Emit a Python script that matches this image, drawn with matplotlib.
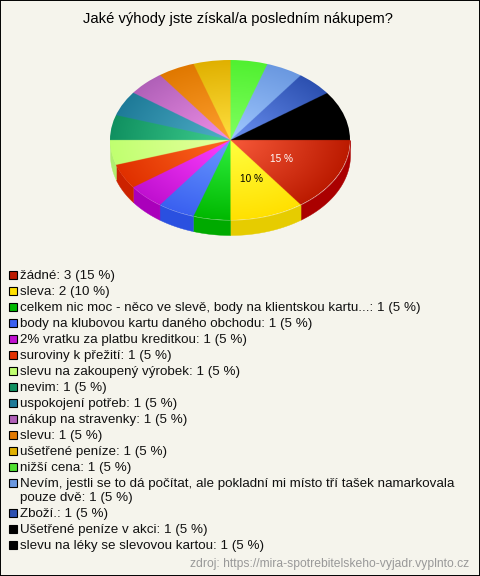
import numpy as np
import matplotlib
matplotlib.use('Agg')
import matplotlib.pyplot as plt
from matplotlib.colors import to_rgb
from matplotlib.patches import Circle, Rectangle

plt.rcParams['font.family'] = ['Liberation Sans', 'DejaVu Sans']

title = 'Jaké výhody jste získal/a posledním nákupem?'
source = 'zdroj: https://mira-spotrebitelskeho-vyjadr.vyplnto.cz'
labels = ['žádné', 'sleva',
          'celkem nic moc - něco ve slevě, body na klientskou kartu...',
          'body na klubovou kartu daného obchodu', '2% vratku za platbu kreditkou',
          'suroviny k přežití', 'slevu na zakoupený výrobek', 'nevim',
          'uspokojení potřeb', 'nákup na stravenky', 'slevu', 'ušetřené peníze',
          'nižší cena',
          'Nevím, jestli se to dá počítat, ale pokladní mi místo tří tašek namarkovala\npouze dvě',
          'Zboží.', 'Ušetřené peníze v akci', 'slevu na léky se slevovou kartou']
counts = [3, 2, 1, 1, 1, 1, 1, 1, 1, 1, 1, 1, 1, 1, 1, 1, 1]

# legend swatch / rim of the top face
rim_colors = ['#bb1a00', '#ffe000', '#00b800', '#3a60f0', '#c010d0', '#e03000',
              '#c0ff70', '#109060', '#1e7a98', '#b060b8', '#e07800', '#e0b000',
              '#50f030', '#6a98e0', '#2c50b0', '#000000', '#000000']
center_colors = ['#f85a3a', '#ffff40', '#30f040', '#6a9aff', '#ff40ff', '#ff6a20',
                 '#e8ffa0', '#40d090', '#50b0c8', '#f090e8', '#ffa030', '#ffe040',
                 '#80ff60', '#a0c8ff', '#6a90f0', '#000000', '#000000']
side_colors = ['#aa0000', '#e6cc00', '#00aa00', '#2a50e0', '#aa00bb', '#cc2200',
               '#b0ee70', '#008050', '#107090', '#905098', '#c06000', '#c09000',
               '#40d020', '#5080c0', '#204090', '#000000', '#000000']
swatch_colors = ['#bb1a00', '#ffe000', '#00b800', '#3a60f0', '#c010d0', '#e03000',
                 '#c0ff70', '#109060', '#1e7a98', '#b060b8', '#e07800', '#e0b000',
                 '#50e030', '#6a98e0', '#2c50b0', '#000000', '#000000']

bg = '#f5f4ec'
total = sum(counts)

fig = plt.figure(figsize=(4.8, 5.76), dpi=100, facecolor=bg)

# pie axes: one unit is the radius, so the circle comes out as the 120x80 ellipse
cx, cy, rx, ry = 230, 140, 120, 80
depth = 15 / ry
pie_ax = fig.add_axes([0, 0, 1, 1])
pie_ax.axis('off')

edges = np.cumsum([0] + counts) / total * 360

# side wall, front half only
for i in range(len(counts)):
    a, b = edges[i], min(edges[i + 1], 180)
    if a >= 180:
        break
    th = np.radians(np.linspace(a, b, 40))
    pie_ax.fill_between(np.cos(th), -np.sin(th), -np.sin(th) - depth,
                        color=side_colors[i], lw=0.3, zorder=1)

# top face: one image, slice picked by angle, radial gradient inside the slice
yy, xx = np.mgrid[-1.02:1.02:1000j, -1.02:1.02:1500j]
rad = np.clip(np.hypot(xx, yy), 0, 1)[..., None]
ang = np.degrees(np.arctan2(-yy, xx)) % 360
idx = np.clip(np.searchsorted(edges, ang, side='right') - 1, 0, len(counts) - 1)
c0 = np.array([to_rgb(c) for c in center_colors])[idx]
c1 = np.array([to_rgb(c) for c in rim_colors])[idx]
img = c0 + (c1 - c0) * rad
im = pie_ax.imshow(img, extent=(-1.02, 1.02, -1.02, 1.02), origin='lower',
                   aspect='auto', interpolation='antialiased', zorder=2)
disc = Circle((0, 0), 1, transform=pie_ax.transData)
im.set_clip_path(disc)
pie_ax.set_xlim(-cx / rx, (480 - cx) / rx)
pie_ax.set_ylim(-(576 - cy) / ry, cy / ry)

# overlay in pixels for the texts and the legend
ax = fig.add_axes([0, 0, 1, 1])
ax.set_xlim(0, 480)
ax.set_ylim(576, 0)
ax.patch.set_alpha(0)
ax.set_xticks([])
ax.set_yticks([])
for s in ax.spines.values():
    s.set_color('black')
    s.set_linewidth(1.4)

ax.text(238, 19, title, ha='center', va='center', fontsize=10.65, color='black')
ax.text(281, 159, '15 %', ha='center', va='center', fontsize=7.2, color='white')
ax.text(251, 179, '10 %', ha='center', va='center', fontsize=7.2, color='black')

y = 274.5
for i, lab in enumerate(labels):
    ax.add_patch(Rectangle((9.2, y - 4), 8, 8, fc=swatch_colors[i], ec='black', lw=0.8))
    pct = round(counts[i] / total * 100)
    lines = ('%s: %d (%d %%)' % (lab, counts[i], pct)).split('\n')
    for k, line in enumerate(lines):
        ax.text(20, y + 4.5 + 14 * k, line, ha='left', va='baseline',
                fontsize=9.66, color='#111111')
    y += 16 + 14 * (len(lines) - 1)

ax.text(469, 564, source, ha='right', va='center', fontsize=8.75, color='#999999')

fig.savefig('out.png', dpi=100, facecolor=bg)
